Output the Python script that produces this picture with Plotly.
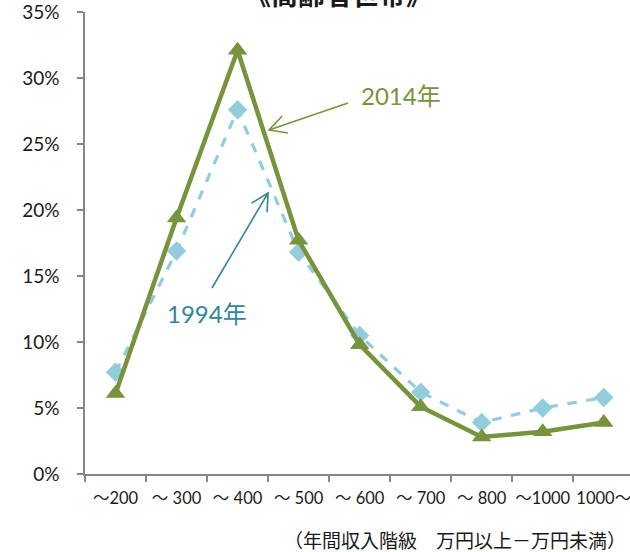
import plotly.graph_objects as go

# Income class (10,000 yen) and share of households (%)
categories = ["～200", "～ 300", "～ 400", "～ 500", "～ 600", "～ 700", "～ 800", "～1000", "1000～"]
share_2014 = [6.1, 19.4, 32.1, 17.7, 9.8, 5.1, 2.8, 3.2, 3.9]
share_1994 = [7.7, 16.9, 27.6, 16.8, 10.5, 6.2, 3.9, 5.0, 5.8]
y_ticks = [0, 5, 10, 15, 20, 25, 30, 35]
y_tick_labels = ["0%", "5%", "10%", "15%", "20%", "25%", "30%", "35%"]

W, H = 630, 552
ML, MR, MT, MB = 85, 0, 12, 78
PW, PH = W - ML - MR, H - MT - MB

GREEN = "#77933C"
LIGHT_BLUE = "#93CDDD"
TEAL = "#31859C"
AXIS = "#868686"
FONT = "Lato, 'Noto Sans CJK JP', sans-serif"


def px(x):
    return (x - ML) / PW


def py(y):
    return (H - MB - y) / PH


def arrow_shapes(tail, head, color, length=16, half=9, width=1.6):
    """Straight line with an open chevron head, given in page pixels."""
    tx, ty = tail
    hx, hy = head
    dx, dy = hx - tx, hy - ty
    n = (dx * dx + dy * dy) ** 0.5
    ux, uy = dx / n, dy / n
    nx, ny = -uy, ux
    bx, by = hx - length * ux, hy - length * uy
    a1 = (bx + half * nx, by + half * ny)
    a2 = (bx - half * nx, by - half * ny)
    line = dict(type="line", xref="paper", yref="paper",
                x0=px(tx), y0=py(ty), x1=px(hx), y1=py(hy),
                line=dict(color=color, width=width))
    path = "M {} {} L {} {} L {} {}".format(px(a1[0]), py(a1[1]), px(hx), py(hy), px(a2[0]), py(a2[1]))
    head_shape = dict(type="path", xref="paper", yref="paper", path=path,
                      line=dict(color=color, width=width))
    return [line, head_shape]


fig = go.Figure()

fig.add_trace(go.Scatter(
    x=categories, y=share_1994, mode="lines+markers", name="1994年",
    line=dict(color=LIGHT_BLUE, width=3.2, dash="dash"),
    marker=dict(symbol="diamond", size=15, color=LIGHT_BLUE),
    cliponaxis=False,
))
fig.add_trace(go.Scatter(
    x=categories, y=share_2014, mode="lines+markers", name="2014年",
    line=dict(color=GREEN, width=4.5),
    marker=dict(symbol="triangle-up", size=17, color=GREEN),
    cliponaxis=False,
))

shapes = []
shapes += arrow_shapes((348, 103), (269, 130), GREEN, length=17, half=9)
shapes += arrow_shapes((212, 288), (268, 193), TEAL, length=17, half=9)

annotations = [
    dict(text="《高齢者世帯》", xref="paper", yref="paper", x=px(338), y=py(-5),
         xanchor="center", yanchor="middle", showarrow=False,
         font=dict(family=FONT, size=27, color="#1a1a1a", weight="bold")),
    dict(text="2014年", xref="paper", yref="paper", x=px(401), y=py(96),
         xanchor="center", yanchor="middle", showarrow=False,
         font=dict(family=FONT, size=24, color=GREEN)),
    dict(text="1994年", xref="paper", yref="paper", x=px(207), y=py(313),
         xanchor="center", yanchor="middle", showarrow=False,
         font=dict(family=FONT, size=24, color=TEAL)),
    dict(text="（年間収入階級　万円以上－万円未満）", xref="paper", yref="paper",
         x=px(628), y=py(540), xanchor="right", yanchor="middle", showarrow=False,
         font=dict(family=FONT, size=19, color="#1a1a1a")),
]

fig.update_layout(
    width=W, height=H,
    margin=dict(l=ML, r=MR, t=MT, b=MB, pad=0, autoexpand=False),
    paper_bgcolor="white", plot_bgcolor="white",
    showlegend=False,
    font=dict(family=FONT, color="#1a1a1a"),
    shapes=shapes,
    annotations=annotations,
)
fig.update_xaxes(
    type="category", range=[-0.5, 8.43], automargin=False, tickangle=0,
    showline=True, linecolor=AXIS, linewidth=1.5,
    ticks="outside", tickson="boundaries", ticklen=6, tickcolor=AXIS, tickwidth=1.5,
    showgrid=False, zeroline=False, ticklabeloverflow="allow",
    tickfont=dict(family=FONT, size=16.5, color="#1a1a1a"),
    ticklabelstandoff=8,
)
fig.update_yaxes(
    range=[0, 35], tickvals=y_ticks, ticktext=y_tick_labels, automargin=False,
    showline=True, linecolor=AXIS, linewidth=1.5,
    ticks="outside", ticklen=6, tickcolor=AXIS, tickwidth=1.5,
    showgrid=False, zeroline=False, ticklabeloverflow="allow",
    tickfont=dict(family=FONT, size=19, color="#1a1a1a"),
    ticklabelstandoff=14,
)

fig.write_html("out.html")
